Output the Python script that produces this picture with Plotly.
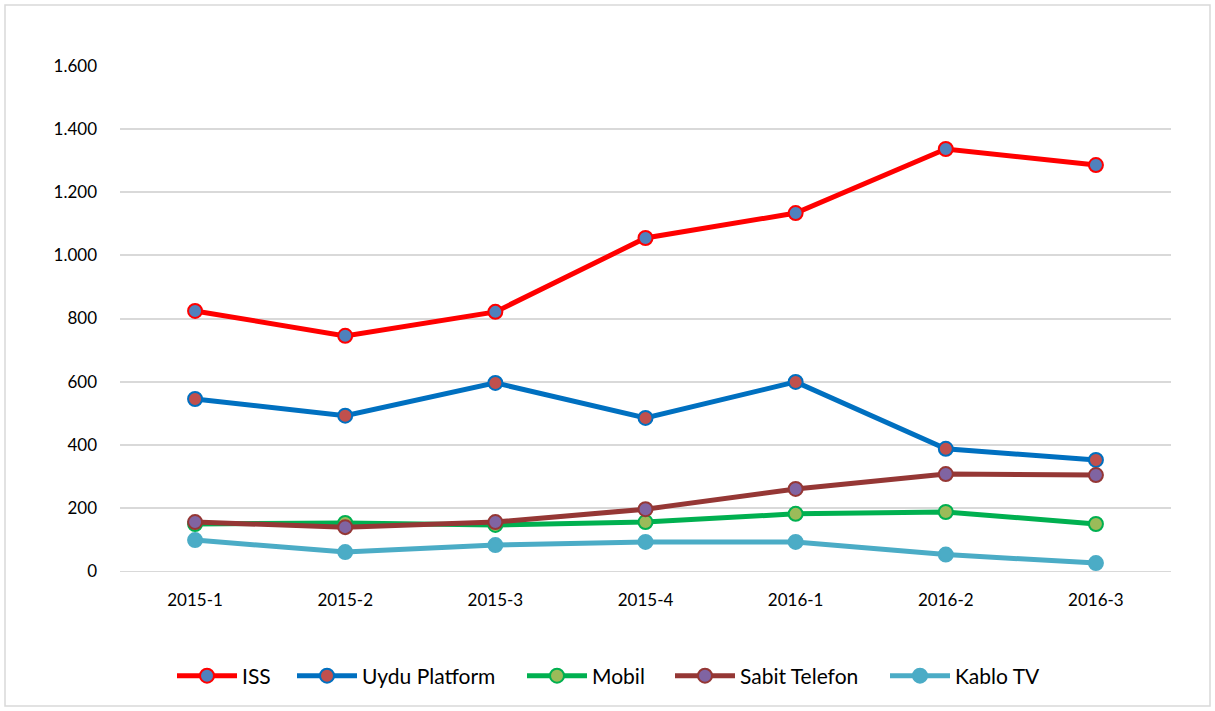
import plotly.graph_objects as go

categories = ["2015-1", "2015-2", "2015-3", "2015-4", "2016-1", "2016-2", "2016-3"]
iss = [824, 745, 821, 1055, 1134, 1337, 1286]
uydu = [545, 492, 596, 485, 599, 387, 352]
mobil = [149, 152, 146, 155, 181, 187, 149]
sabit = [155, 139, 155, 196, 260, 307, 304]
kablo = [98, 60, 82, 92, 92, 52, 25]
y_ticks = [0, 200, 400, 600, 800, 1000, 1200, 1400, 1600]

series = [
    ("ISS", iss, "#FF0000", "#4F81BD", "#FF0000"),
    ("Uydu Platform", uydu, "#0070C0", "#C0504D", "#0070C0"),
    ("Mobil", mobil, "#00B050", "#9BBB59", "#00B050"),
    ("Sabit Telefon", sabit, "#953735", "#8064A2", "#953735"),
    ("Kablo TV", kablo, "#4BACC6", "#4BACC6", "#4BACC6"),
]
# legend text start positions (px)
legend_text_px = [243, 363, 593, 741, 956]

fig = go.Figure()
legend_layouts = {}
for i, (name, vals, lc, fc, bc) in enumerate(series):
    lg = "legend" if i == 0 else f"legend{i + 1}"
    fig.add_trace(go.Scatter(
        x=categories, y=vals, name=name, mode="lines+markers",
        line=dict(color=lc, width=5),
        marker=dict(size=14, color=fc, line=dict(color=bc, width=2)),
        cliponaxis=False, legend=lg,
    ))
    legend_layouts[lg] = dict(
        orientation="h", x=(legend_text_px[i] - 71 - 120) / 1051, xanchor="left",
        y=-0.208, yanchor="middle", font=dict(size=21), itemwidth=60,
        bgcolor="rgba(0,0,0,0)",
    )

fig.update_layout(
    width=1215, height=711,
    margin=dict(l=120, r=44, t=66, b=140),
    paper_bgcolor="white", plot_bgcolor="white",
    separators=",.",
    font=dict(family="Lato, Open Sans, sans-serif", size=17, color="#000000"),
    showlegend=True,
    xaxis=dict(type="category", showgrid=False, ticks="", showline=True,
               linecolor="#D9D9D9", linewidth=1, range=[-0.5, 6.5],
               ticklabelstandoff=14, tickfont=dict(size=17)),
    yaxis=dict(range=[0, 1600], tickvals=y_ticks, tickformat=",d",
               showgrid=True, gridcolor="#D9D9D9", gridwidth=1.5, zeroline=False,
               ticks="", ticklabelstandoff=22, tickfont=dict(size=17)),
    shapes=[dict(type="rect", xref="paper", yref="paper",
                 x0=(5 - 120) / 1051, x1=(1210 - 120) / 1051,
                 y0=(571 - 706) / 505, y1=(571 - 5) / 505,
                 line=dict(color="#D9D9D9", width=1.5), layer="below")],
    **legend_layouts,
)

fig.write_html("out.html", config={"displayModeBar": False},
               post_script="document.body.style.margin='0';")
